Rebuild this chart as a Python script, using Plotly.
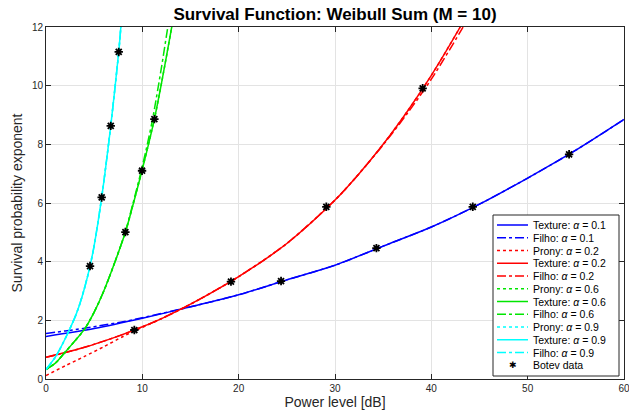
import plotly.graph_objects as go

# ---- data ----
blue_tex_x = [0, 5, 10, 15, 20, 25, 30, 35, 40, 45, 50, 55, 60]
blue_tex_y = [1.45, 1.72, 2.07, 2.46, 2.87, 3.38, 3.88, 4.53, 5.18, 5.96, 6.85, 7.8, 8.85]
blue_fil_x = [0, 2, 4, 6, 8, 10, 15, 20, 25, 30, 35, 40, 45, 50, 55, 60]
blue_fil_y = [1.55, 1.64, 1.73, 1.84, 1.95, 2.09, 2.46, 2.87, 3.38, 3.88, 4.53, 5.18, 5.96, 6.85, 7.8, 8.85]

red_tex_x = [0, 2, 4, 6, 8, 10, 12, 15, 20, 25, 30, 32.5, 35, 37.5, 40, 43, 43.5]
red_tex_y = [0.74, 0.9, 1.08, 1.29, 1.52, 1.78, 2.06, 2.55, 3.49, 4.62, 6.1, 7.0, 8.0, 9.12, 10.35, 12.0, 12.3]
red_fil_x = [0, 2, 4, 6, 8, 10, 12, 15, 20, 25, 30, 32.5, 35, 37.5, 40, 43.3, 43.8]
red_fil_y = [0.74, 0.9, 1.08, 1.29, 1.52, 1.78, 2.06, 2.55, 3.49, 4.62, 6.1, 7.0, 7.98, 9.05, 10.22, 12.0, 12.3]
red_pro_x = [0, 2, 4, 6, 8, 10, 12, 15, 20, 25, 30, 32.5, 35, 37.5, 40, 43, 43.5]
red_pro_y = [0.12, 0.45, 0.77, 1.1, 1.45, 1.76, 2.06, 2.55, 3.49, 4.62, 6.1, 7.0, 8.0, 9.12, 10.35, 12.0, 12.3]

green_tex_x = [0, 1, 2, 3, 4, 5, 6, 7, 8.24, 9, 10, 11.25, 12, 13.05, 13.2]
green_tex_y = [0.33, 0.55, 0.92, 1.3, 1.7, 2.28, 3.0, 3.85, 5.0, 5.9, 7.15, 8.86, 10.1, 12.0, 12.3]
green_fil_x = [0, 1, 2, 3, 4, 5, 6, 7, 8.24, 9, 10, 11, 12, 12.5, 12.8]
green_fil_y = [0.33, 0.55, 0.92, 1.3, 1.7, 2.28, 3.0, 3.85, 5.02, 5.95, 7.25, 8.75, 10.65, 11.7, 12.3]
green_pro_x = [0, 1, 2, 3, 4, 5, 6, 7, 8.24, 9, 10, 11.25, 12, 13.05, 13.2]
green_pro_y = [0.32, 0.55, 0.92, 1.3, 1.7, 2.28, 3.0, 3.85, 5.0, 5.9, 7.15, 8.86, 10.1, 12.0, 12.3]

cyan_tex_x = [0, 1, 2, 3, 3.5, 4, 4.57, 5, 5.78, 6.72, 7.55, 7.77, 7.85]
cyan_tex_y = [0.33, 0.76, 1.38, 2.1, 2.55, 3.1, 3.85, 4.55, 6.19, 8.63, 11.15, 12.0, 12.3]
cyan_fil_x = [0, 1, 2, 3, 3.5, 4, 4.57, 5, 5.78, 6.72, 7.55, 7.77, 7.85]
cyan_fil_y = [0.33, 0.76, 1.38, 2.1, 2.55, 3.1, 3.85, 4.55, 6.19, 8.63, 11.15, 12.0, 12.3]
cyan_pro_x = [0, 1, 2, 3, 3.5, 4, 4.57, 5, 5.78, 6.72, 7.55, 7.77, 7.85]
cyan_pro_y = [0.32, 0.76, 1.38, 2.1, 2.55, 3.1, 3.85, 4.55, 6.19, 8.63, 11.15, 12.0, 12.3]

botev_x = [4.57, 5.78, 6.72, 7.55, 8.24, 9.97, 11.25, 9.17, 19.2, 29.1, 39.1, 24.4, 34.3, 44.3, 54.3]
botev_y = [3.85, 6.19, 8.63, 11.15, 5.01, 7.10, 8.86, 1.67, 3.32, 5.87, 9.91, 3.34, 4.46, 5.87, 7.66]

x_ticks = [0, 10, 20, 30, 40, 50, 60]
y_ticks = [0, 2, 4, 6, 8, 10, 12]

BLUE, RED, GREEN, CYAN = "#0000FF", "#FF0000", "#00E600", "#00FFFF"
A = "<i>α</i>"

series = [
    (blue_tex_x, blue_tex_y, BLUE, "solid", f"Texture: {A} = 0.1"),
    (blue_fil_x, blue_fil_y, BLUE, "dashdot", f"Filho: {A} = 0.1"),
    (red_pro_x, red_pro_y, RED, "dot", f"Prony: {A} = 0.2"),
    (red_tex_x, red_tex_y, RED, "solid", f"Texture: {A} = 0.2"),
    (red_fil_x, red_fil_y, RED, "dashdot", f"Filho: {A} = 0.2"),
    (green_pro_x, green_pro_y, GREEN, "dot", f"Prony: {A} = 0.6"),
    (green_tex_x, green_tex_y, GREEN, "solid", f"Texture: {A} = 0.6"),
    (green_fil_x, green_fil_y, GREEN, "dashdot", f"Filho: {A} = 0.6"),
    (cyan_pro_x, cyan_pro_y, CYAN, "dot", f"Prony: {A} = 0.9"),
    (cyan_tex_x, cyan_tex_y, CYAN, "solid", f"Texture: {A} = 0.9"),
    (cyan_fil_x, cyan_fil_y, CYAN, "dashdot", f"Filho: {A} = 0.9"),
]

# page geometry (page pixels); the body margin is removed by the post script
W, H = 629, 415
PL, PR, PT, PB = 46, 624, 27, 379          # plot-area edges in page pixels
ML, MT = PL, PT
MR, MB = W - PR, H - PB
PW, PH = PR - PL, PB - PT


def px(xp):
    return (xp - PL) / PW


def py(yp):
    return (PB - yp) / PH


fig = go.Figure()
for xs, ys, col, dash, name in series:
    fig.add_trace(go.Scatter(
        x=xs, y=ys, mode="lines", name=name,
        line=dict(color=col, dash=dash, width=1.5, shape="spline", smoothing=0.8),
    ))
fig.add_trace(go.Scatter(
    x=botev_x, y=botev_y, mode="markers", name="Botev data",
    marker=dict(symbol="asterisk-open", size=7, color="black", line=dict(color="black", width=1.8)),
))

# ---- compact MATLAB-like legend ----
shapes = []
annotations = []
box_l, box_r, box_t, box_b = 493, 619, 215, 376
shapes.append(dict(type="rect", xref="paper", yref="paper", layer="above",
                   x0=px(box_l), x1=px(box_r), y0=py(box_b), y1=py(box_t),
                   fillcolor="white", line=dict(color="#262626", width=1)))
row0, step = 225, 12.75
for i, (_, _, col, dash, name) in enumerate(series):
    yc = row0 + i * step
    shapes.append(dict(type="line", xref="paper", yref="paper", layer="above",
                       x0=px(497), x1=px(528), y0=py(yc), y1=py(yc),
                       line=dict(color=col, dash=dash, width=1.5)))
    annotations.append(dict(xref="paper", yref="paper", x=px(531), y=py(yc),
                            xanchor="left", yanchor="middle", showarrow=False,
                            text=name, font=dict(size=10.5, color="black")))
yc = row0 + len(series) * step
annotations.append(dict(xref="paper", yref="paper", x=px(513), y=py(yc),
                        xanchor="center", yanchor="middle", showarrow=False,
                        text="✱", font=dict(size=9, color="black", family="DejaVu Sans")))
annotations.append(dict(xref="paper", yref="paper", x=px(531), y=py(yc),
                        xanchor="left", yanchor="middle", showarrow=False,
                        text="Botev data", font=dict(size=10.5, color="black")))

axis_common = dict(
    showgrid=True, gridcolor="#e3e3e3", gridwidth=1,
    showline=True, linecolor="#262626", linewidth=1, mirror="ticks",
    ticks="inside", ticklen=5, tickcolor="#262626", tickwidth=1,
    zeroline=False, tickfont=dict(size=10, color="#262626"), automargin=False,
    ticklabeloverflow="allow",
)
fig.update_layout(
    width=W, height=H,
    margin=dict(l=ML, r=MR, t=MT, b=MB, pad=0),
    paper_bgcolor="white", plot_bgcolor="white",
    font=dict(family="Liberation Sans, Arial, sans-serif", color="#262626"),
    title=dict(text="<b>Survival Function: Weibull Sum (M = 10)</b>",
               x=((PL + PR) / 2) / W, xanchor="center",
               y=1 - 14 / H, yanchor="middle",
               yref="container", font=dict(size=17, color="black")),
    xaxis=dict(range=[0, 60], tickvals=x_ticks,
               title=dict(text="Power level [dB]", font=dict(size=14), standoff=3),
               **axis_common),
    yaxis=dict(range=[0, 12], tickvals=y_ticks,
               title=dict(text="Survival probability exponent", font=dict(size=14), standoff=5),
               **axis_common),
    shapes=shapes,
    annotations=annotations,
    showlegend=False,
)
fig.write_html("out.html",
               config={"displayModeBar": False},
               post_script="document.body.style.margin='0px';document.body.style.overflow='hidden';")
